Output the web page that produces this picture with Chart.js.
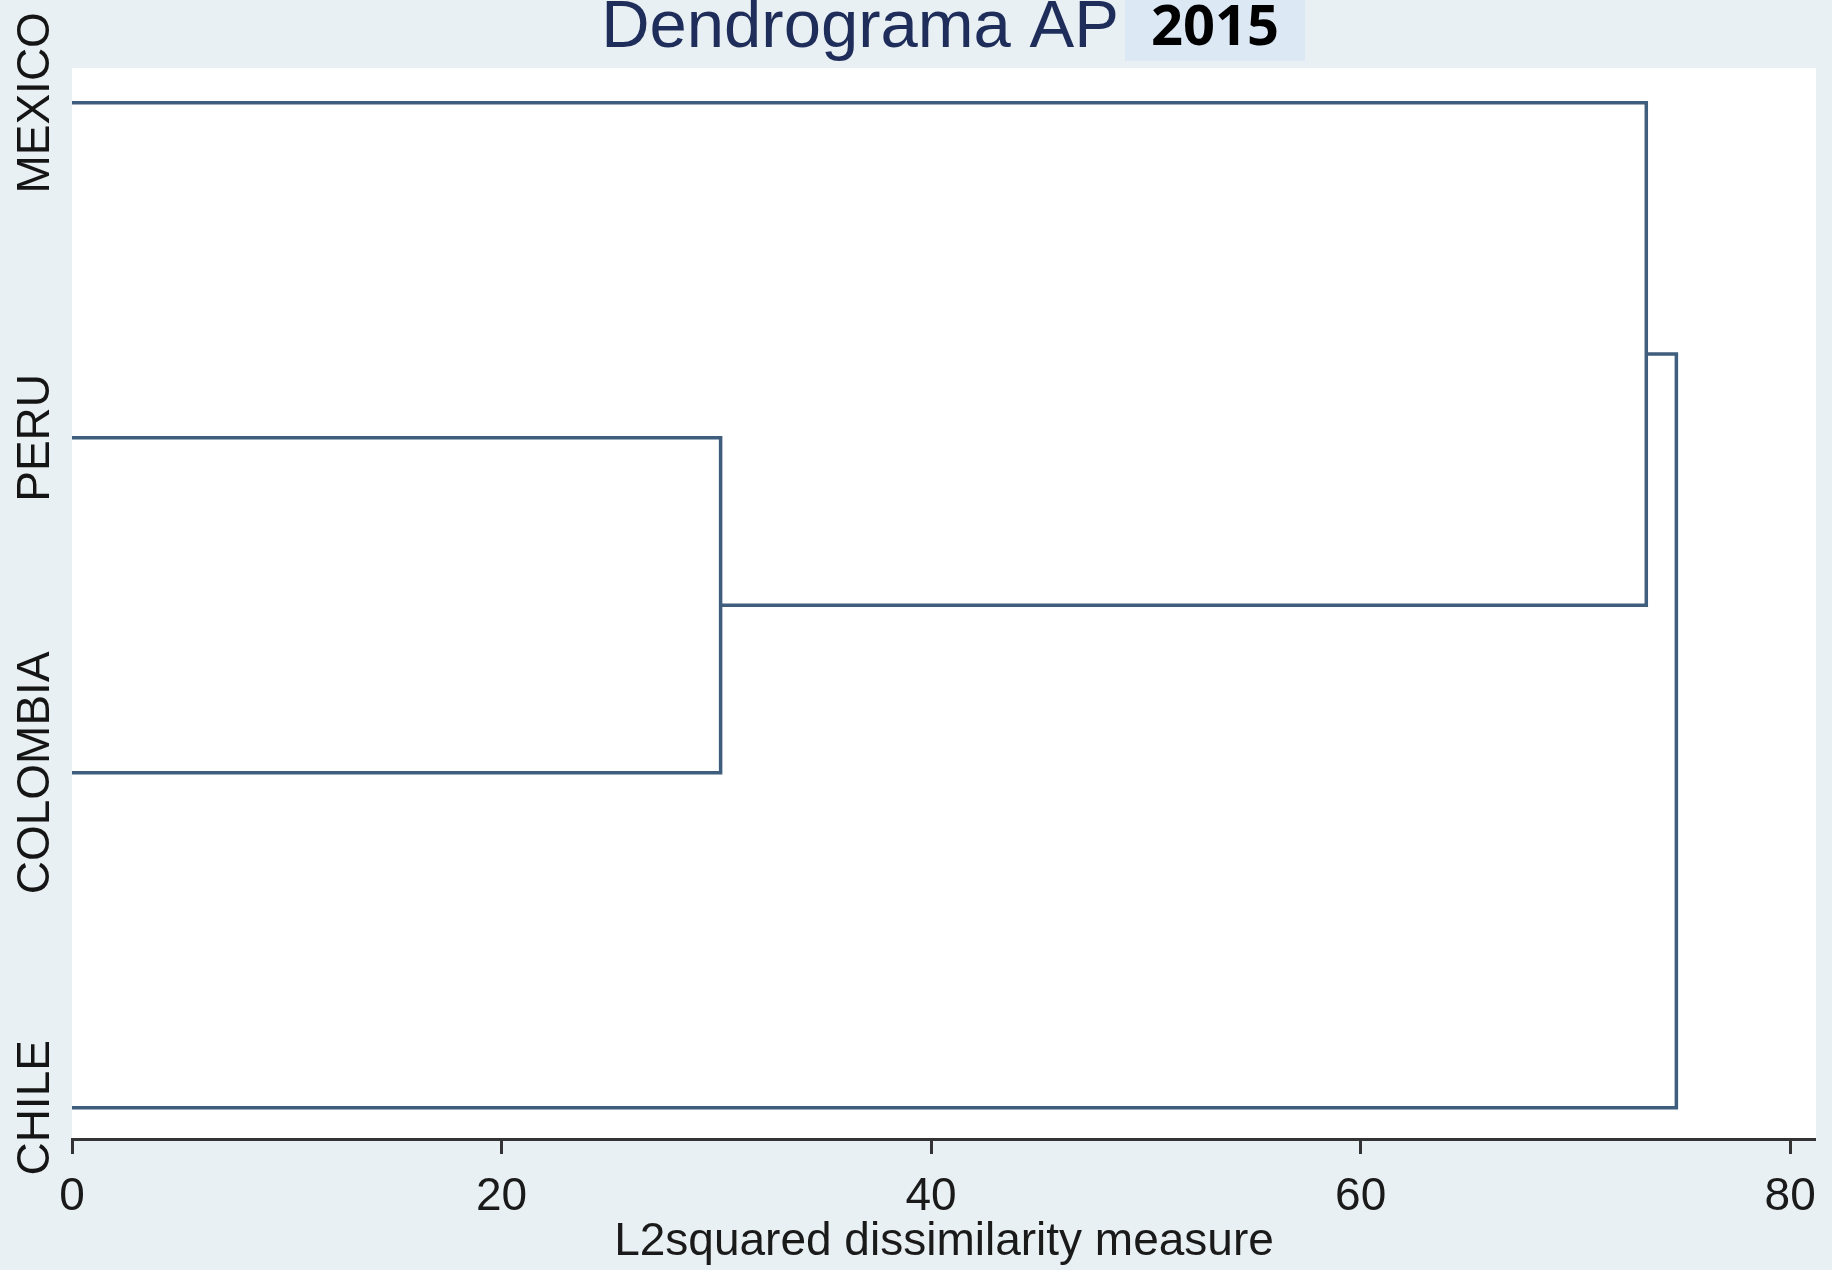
<!DOCTYPE html>
<html>
<head>
<meta charset="utf-8">
<script src="https://cdn.jsdelivr.net/npm/chart.js@4.4.1/dist/chart.umd.min.js"></script>
<style>
  html, body { margin: 0; padding: 0; background: #e9f0f3; }
  #wrap { width: 1832px; height: 1270px; }
</style>
</head>
<body>
<div id="wrap"><canvas id="dendro"></canvas></div>
<script>
const leaves = ["MEXICO", "PERU", "COLOMBIA", "CHILE"];
const leafPos = [4, 3, 2, 1];
// each merge joins two nodes; ids 0-3 are leaves, 4+ are earlier merges
const mergeLeft = [1, 0, 3];
const mergeRight = [2, 4, 5];
const mergeHeight = [30.2, 73.3, 74.7];
const xTicks = [0, 20, 40, 60, 80];

const FONT = '"Liberation Sans", Arial, sans-serif';
const lineColor = "#3f5d7d";

let nodeY = leafPos.slice();
let nodeH = leaves.map(() => 0);
const datasets = [];

mergeHeight.forEach((h, i) => {
  const a = mergeLeft[i], b = mergeRight[i];
  datasets.push({
    data: [
      { x: nodeH[a], y: nodeY[a] },
      { x: h, y: nodeY[a] },
      { x: h, y: nodeY[b] },
      { x: nodeH[b], y: nodeY[b] }
    ],
    showLine: true,
    borderColor: lineColor,
    borderWidth: 3.5,
    pointRadius: 0,
    tension: 0
  });
  nodeY.push((nodeY[a] + nodeY[b]) / 2);
  nodeH.push(h);
});

const frame = {
  id: "frame",
  beforeDraw(chart) {
    const { ctx, chartArea: ca } = chart;
    ctx.save();
    ctx.fillStyle = "#e9f0f3";
    ctx.fillRect(0, 0, chart.width, chart.height);
    ctx.fillStyle = "#ffffff";
    ctx.fillRect(ca.left, ca.top, ca.right - ca.left, ca.bottom - ca.top);
    ctx.restore();
  },
  afterDraw(chart) {
    const { ctx } = chart;
    const yScale = chart.scales.y;
    ctx.save();
    // title
    ctx.fillStyle = "#1f2d5a";
    ctx.font = "67px " + FONT;
    ctx.textAlign = "center";
    ctx.textBaseline = "alphabetic";
    ctx.fillText("Dendrograma AP", 860, 47);
    // year tag
    ctx.fillStyle = "#dce8f4";
    ctx.fillRect(1125, 0, 180, 61);
    ctx.fillStyle = "#000000";
    ctx.font = 'bold 56px "Open Sans", sans-serif';
    ctx.fillText("2015", 1215, 45);
    // leaf labels
    ctx.fillStyle = "#151515";
    ctx.font = "46px " + FONT;
    ctx.textBaseline = "middle";
    leaves.forEach((name, i) => {
      ctx.save();
      ctx.translate(36, yScale.getPixelForValue(leafPos[i]));
      ctx.rotate(-Math.PI / 2);
      ctx.fillText(name, 0, 0);
      ctx.restore();
    });
    ctx.restore();
  }
};

new Chart("dendro", {
  type: "scatter",
  data: { datasets: datasets },
  options: {
    responsive: true,
    maintainAspectRatio: false,
    devicePixelRatio: 1,
    animation: false,
    layout: { padding: { top: 68, right: 15, left: 0, bottom: 0 } },
    plugins: { legend: { display: false }, tooltip: { enabled: false } },
    scales: {
      x: {
        type: "linear",
        min: 0,
        max: 81.2,
        afterBuildTicks: s => { s.ticks = xTicks.map(v => ({ value: v })); },
        afterFit: s => { s.height = 131; },
        grid: { drawOnChartArea: false, tickLength: 15, tickWidth: 3, color: "#333333" },
        border: { display: true, color: "#333333", width: 3 },
        ticks: { font: { size: 46, family: FONT }, color: "#1a1a1a", padding: 16, maxRotation: 0, autoSkip: false },
        title: { display: true, text: "L2squared dissimilarity measure", font: { size: 46, family: FONT }, color: "#1a1a1a", padding: 0 }
      },
      y: {
        type: "linear",
        min: 0.907,
        max: 4.104,
        afterFit: s => { s.width = 72; },
        grid: { display: false },
        border: { display: false },
        ticks: { display: false }
      }
    }
  },
  plugins: [frame]
});
</script>
</body>
</html>
